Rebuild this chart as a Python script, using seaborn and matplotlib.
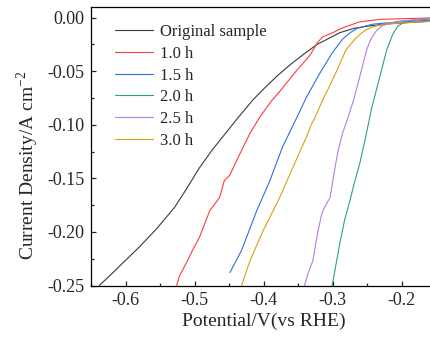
import matplotlib
matplotlib.use("Agg")
import matplotlib.pyplot as plt
import seaborn as sns
import pandas as pd
from matplotlib.ticker import MultipleLocator

# LSV curves (potential in V vs RHE, current density in A cm^-2)
v_orig = [-0.638, -0.623, -0.604, -0.580, -0.555, -0.529, -0.512, -0.494, -0.474, -0.438,
          -0.416, -0.401, -0.380, -0.362, -0.342, -0.323, -0.305, -0.290, -0.270, -0.251,
          -0.225, -0.203, -0.150]
j_orig = [-0.250, -0.241, -0.229, -0.214, -0.197, -0.177, -0.160, -0.141, -0.123, -0.094,
          -0.077, -0.067, -0.054, -0.044, -0.034, -0.025, -0.019, -0.014, -0.010, -0.008,
          -0.006, -0.005, -0.003]

v_10h = [-0.526, -0.522, -0.512, -0.503, -0.493, -0.478, -0.464, -0.457, -0.449, -0.439,
         -0.420, -0.406, -0.388, -0.377, -0.352, -0.333, -0.322, -0.315, -0.300, -0.288,
         -0.275, -0.262, -0.251, -0.230, -0.203, -0.150]
j_10h = [-0.250, -0.241, -0.229, -0.217, -0.205, -0.180, -0.168, -0.152, -0.147, -0.133,
         -0.108, -0.093, -0.077, -0.069, -0.049, -0.035, -0.023, -0.018, -0.014, -0.010,
         -0.007, -0.004, -0.003, -0.0015, -0.001, 0.000]

v_15h = [-0.449, -0.432, -0.410, -0.391, -0.373, -0.352, -0.338, -0.319, -0.301, -0.286,
         -0.275, -0.265, -0.254, -0.242, -0.225, -0.203, -0.150]
j_15h = [-0.238, -0.217, -0.180, -0.152, -0.121, -0.093, -0.074, -0.052, -0.033, -0.020,
         -0.014, -0.010, -0.008, -0.006, -0.005, -0.004, -0.002]

v_20h = [-0.301, -0.297, -0.290, -0.283, -0.275, -0.268, -0.261, -0.252, -0.244, -0.232,
         -0.222, -0.213, -0.206, -0.199, -0.190, -0.180, -0.150]
j_20h = [-0.250, -0.236, -0.211, -0.189, -0.170, -0.152, -0.136, -0.110, -0.085, -0.055,
         -0.030, -0.015, -0.008, -0.005, -0.003, -0.002, -0.001]

v_25h = [-0.341, -0.336, -0.329, -0.322, -0.316, -0.312, -0.304, -0.300, -0.293, -0.286,
         -0.278, -0.270, -0.261, -0.251, -0.245, -0.238, -0.230, -0.217, -0.203, -0.150]
j_25h = [-0.250, -0.239, -0.227, -0.201, -0.183, -0.177, -0.168, -0.152, -0.126, -0.108,
         -0.093, -0.077, -0.055, -0.030, -0.020, -0.013, -0.008, -0.005, -0.003, 0.000]

v_30h = [-0.432, -0.420, -0.401, -0.377, -0.358, -0.338, -0.330, -0.328, -0.323, -0.315,
         -0.307, -0.294, -0.281, -0.268, -0.258, -0.251, -0.240, -0.225, -0.203, -0.150]
j_30h = [-0.250, -0.227, -0.199, -0.168, -0.140, -0.111, -0.098, -0.096, -0.089, -0.077,
         -0.067, -0.049, -0.030, -0.020, -0.014, -0.011, -0.008, -0.006, -0.005, -0.003]

labels = ["Original sample", "1.0 h", "1.5 h", "2.0 h", "2.5 h", "3.0 h"]
colors = ["#3a3a3a", "#ff3b3b", "#2f6fe4", "#2ea466", "#b07ee8", "#d9a012"]
series = [(v_orig, j_orig), (v_10h, j_10h), (v_15h, j_15h),
          (v_20h, j_20h), (v_25h, j_25h), (v_30h, j_30h)]

sns.set_style("ticks")
plt.rcParams["font.family"] = ["Liberation Serif", "DejaVu Serif"]
plt.rcParams["mathtext.fontset"] = "custom"
plt.rcParams["mathtext.rm"] = "Liberation Serif"
plt.rcParams["axes.unicode_minus"] = False

fig = plt.figure(figsize=(4.31, 3.37), dpi=100)
ax = fig.add_axes([0.2111, 0.1528, 0.8016, 0.8264])

for (v, j), lab, col in zip(series, labels, colors):
    df = pd.DataFrame({"V": v, "J": j})
    sns.lineplot(data=df, x="V", y="J", color=col, label=lab, sort=False,
                 estimator=None, linewidth=0.8, ax=ax)

ax.set_xlim(-0.65, -0.15)
ax.set_ylim(-0.25, 0.01)
ax.xaxis.set_major_locator(MultipleLocator(0.1))
ax.xaxis.set_minor_locator(MultipleLocator(0.05))
ax.yaxis.set_major_locator(MultipleLocator(0.05))
ax.yaxis.set_minor_locator(MultipleLocator(0.025))
ax.tick_params(which="both", direction="in", top=False, right=False, labelsize=13, width=0.9)
ax.tick_params(which="major", length=3.5, pad=4.5)
ax.tick_params(which="minor", length=2)
for s in ax.spines.values():
    s.set_linewidth(0.9)
    s.set_color("black")

ax.set_xlabel("Potential/V(vs RHE)", fontsize=14, labelpad=3)
ax.set_ylabel("Current Density/A cm$^{-2}$", fontsize=14)
ax.yaxis.set_label_coords(-0.145, 0.43)

ax.legend(loc="upper left", bbox_to_anchor=(0.069, 0.938), frameon=False, fontsize=12,
          borderaxespad=0, borderpad=0, handlelength=2.3, handletextpad=0.4, labelspacing=0.34)

fig.savefig("out.png", dpi=100)
